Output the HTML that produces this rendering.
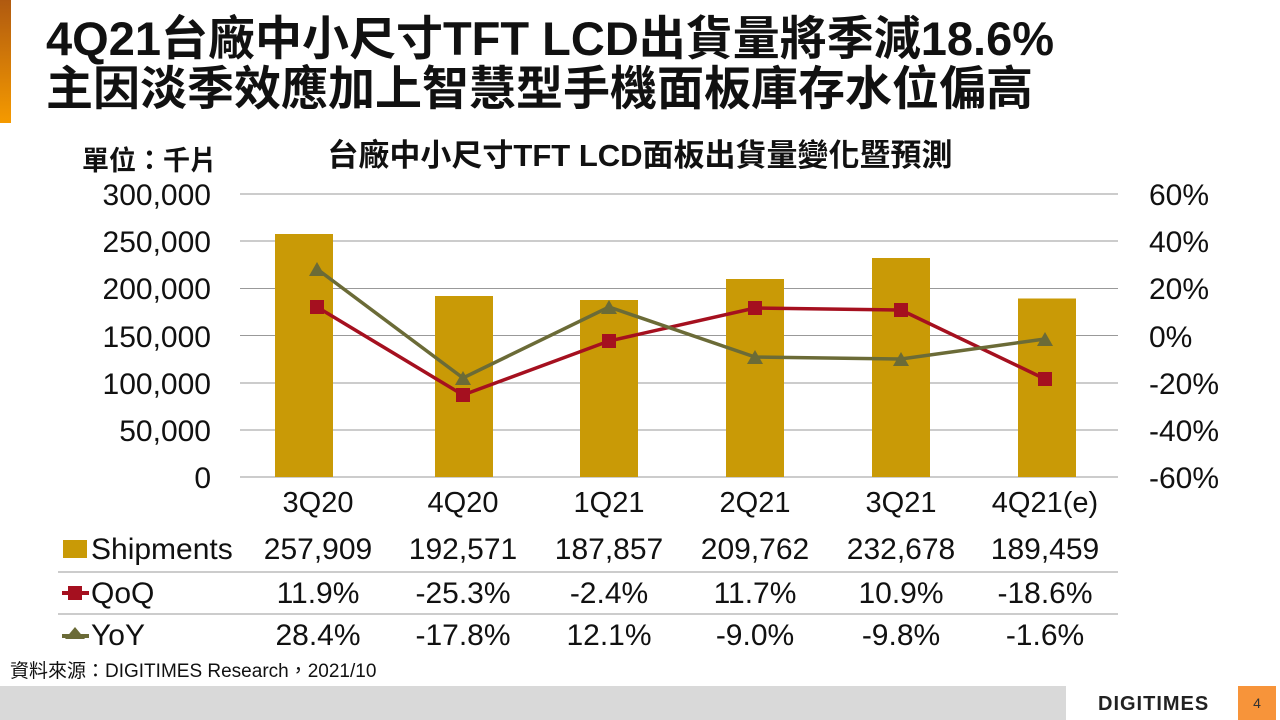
<!DOCTYPE html>
<html><head><meta charset="utf-8"><style>
body{margin:0;width:1280px;height:720px;background:#fff;position:relative;overflow:hidden;font-family:"Liberation Sans","Noto Sans CJK TC",sans-serif}
.t{position:absolute;white-space:nowrap}
</style></head><body>
<div style="position:absolute;left:0;top:0;width:11px;height:123px;background:linear-gradient(#b05a10,#f59a00)"></div>
<div class="t" style="left:46px;top:14px;font-size:47px;line-height:50px;font-weight:bold;color:#111">4Q21台廠中小尺寸TFT LCD出貨量將季減18.6%<br>主因淡季效應加上智慧型手機面板庫存水位偏高</div>
<svg width="1280" height="720" style="position:absolute;left:0;top:0" font-family="Liberation Sans, Noto Sans CJK TC, sans-serif">
<text x="82" y="170" font-size="27" font-weight="bold" fill="#111">單位：千片</text>
<text x="640" y="166" font-size="31" font-weight="bold" fill="#111" text-anchor="middle">台廠中小尺寸TFT LCD面板出貨量變化暨預測</text>
<g stroke="#999" stroke-width="1">
<line x1="240" x2="1118" y1="194" y2="194"/><line x1="240" x2="1118" y1="241" y2="241"/><line x1="240" x2="1118" y1="288.5" y2="288.5"/><line x1="240" x2="1118" y1="335.5" y2="335.5"/><line x1="240" x2="1118" y1="383" y2="383"/><line x1="240" x2="1118" y1="430" y2="430"/><line x1="240" x2="1118" y1="477" y2="477"/>
</g>
<g font-size="30" fill="#111" text-anchor="end">
<text x="211" y="205">300,000</text><text x="211" y="252">250,000</text><text x="211" y="299">200,000</text><text x="211" y="347">150,000</text><text x="211" y="394">100,000</text><text x="211" y="441">50,000</text><text x="211" y="488">0</text>
</g>
<g font-size="30" fill="#111">
<text x="1149" y="205">60%</text><text x="1149" y="252">40%</text><text x="1149" y="299">20%</text><text x="1149" y="347">0%</text><text x="1149" y="394">-20%</text><text x="1149" y="441">-40%</text><text x="1149" y="488">-60%</text>
</g>
<g fill="#c99a06">
<rect x="275" y="234" width="58" height="243"/><rect x="435" y="296" width="58" height="181"/><rect x="580" y="300" width="58" height="177"/><rect x="726" y="279" width="58" height="198"/><rect x="872" y="258" width="58" height="219"/><rect x="1018" y="298.5" width="58" height="178.5"/>
</g>
<polyline fill="none" stroke="#a5101f" stroke-width="3.5" points="317,307 463,395 609,341 755,308 901,310 1045,379"/>
<g fill="#a5101f"><rect x="310" y="300" width="14" height="14"/><rect x="456" y="388" width="14" height="14"/><rect x="602" y="334" width="14" height="14"/><rect x="748" y="301" width="14" height="14"/><rect x="894" y="303" width="14" height="14"/><rect x="1038" y="372" width="14" height="14"/></g>
<polyline fill="none" stroke="#6b6b37" stroke-width="3.5" points="317,269 463,378 609,307 755,357 901,359 1045,339"/>
<g fill="#6b6b37"><path d="M317,262l8,14h-16z"/><path d="M463,371l8,14h-16z"/><path d="M609,300l8,14h-16z"/><path d="M755,350l8,14h-16z"/><path d="M901,352l8,14h-16z"/><path d="M1045,332l8,14h-16z"/></g>
<g font-size="29" fill="#111" text-anchor="middle">
<text x="318" y="512">3Q20</text><text x="463" y="512">4Q20</text><text x="609" y="512">1Q21</text><text x="755" y="512">2Q21</text><text x="901" y="512">3Q21</text><text x="1045" y="512">4Q21(e)</text>
</g>
<g font-size="30" fill="#111" text-anchor="middle">
<text x="318" y="559">257,909</text><text x="463" y="559">192,571</text><text x="609" y="559">187,857</text><text x="755" y="559">209,762</text><text x="901" y="559">232,678</text><text x="1045" y="559">189,459</text>
<text x="318" y="603">11.9%</text><text x="463" y="603">-25.3%</text><text x="609" y="603">-2.4%</text><text x="755" y="603">11.7%</text><text x="901" y="603">10.9%</text><text x="1045" y="603">-18.6%</text>
<text x="318" y="645">28.4%</text><text x="463" y="645">-17.8%</text><text x="609" y="645">12.1%</text><text x="755" y="645">-9.0%</text><text x="901" y="645">-9.8%</text><text x="1045" y="645">-1.6%</text>
</g>
<g stroke="#999" stroke-width="1"><line x1="58" x2="1118" y1="572" y2="572"/><line x1="58" x2="1118" y1="614" y2="614"/></g>
<rect x="63" y="540" width="24" height="18" fill="#c99a06"/>
<text x="91" y="559" font-size="30" fill="#111">Shipments</text>
<line x1="62" x2="89" y1="593" y2="593" stroke="#a5101f" stroke-width="4"/><rect x="68" y="586" width="14" height="14" fill="#a5101f"/>
<text x="91" y="603" font-size="30" fill="#111">QoQ</text>
<line x1="62" x2="89" y1="636" y2="636" stroke="#6b6b37" stroke-width="4"/><path d="M75,627l10,12h-20z" fill="#6b6b37"/>
<text x="91" y="645" font-size="30" fill="#111">YoY</text>
<text x="10" y="677" font-size="19" fill="#111">資料來源：DIGITIMES Research，2021/10</text>
<rect x="0" y="686" width="1066" height="34" fill="#d9d9d9"/>
<text x="1098" y="710" font-size="20" font-weight="bold" fill="#222" letter-spacing="1">DIGITIMES</text>
<rect x="1238" y="686" width="38" height="34" fill="#f7943a"/>
<text x="1257" y="708" font-size="14" fill="#333" text-anchor="middle">4</text>
</svg>
</body></html>
